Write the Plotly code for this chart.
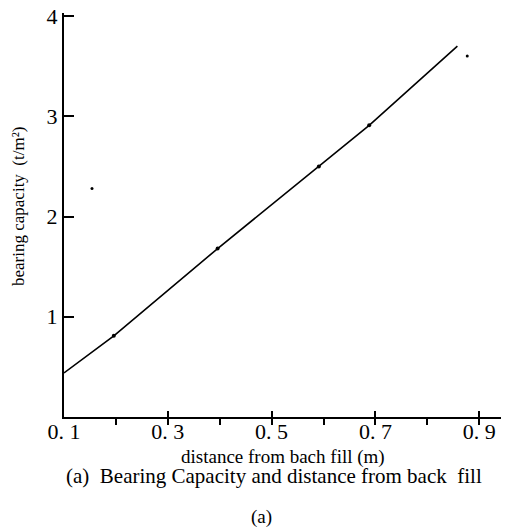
import plotly.graph_objects as go

# Data
distance = [0.10, 0.196, 0.396, 0.591, 0.688, 0.858]
capacity = [0.44, 0.81, 1.68, 2.50, 2.91, 3.70]
dot_distance = [0.196, 0.396, 0.591, 0.688]
dot_capacity = [0.81, 1.68, 2.50, 2.91]
speck_distance = [0.154, 0.877]
speck_capacity = [2.28, 3.60]

x_tickvals = [0.1, 0.3, 0.5, 0.7, 0.9]
x_ticktext = ["0. 1", "0. 3", "0. 5", "0. 7", "0. 9"]
y_tickvals = [1, 2, 3, 4]
y_ticktext = ["1", "2", "3", "4"]

FONT = "Liberation Serif, Times New Roman, serif"

fig = go.Figure()
fig.add_trace(go.Scatter(x=distance, y=capacity, mode="lines",
                         line=dict(color="black", width=1.6),
                         showlegend=False, hoverinfo="skip"))
fig.add_trace(go.Scatter(x=dot_distance, y=dot_capacity, mode="markers",
                         marker=dict(color="black", size=4),
                         showlegend=False))
fig.add_trace(go.Scatter(x=speck_distance, y=speck_capacity, mode="markers",
                         marker=dict(color="black", size=3),
                         showlegend=False))

# page body has an 8px margin; work in screen pixels and subtract it
OFF = 8
W, H = 509 - OFF, 529 - OFF
L = 64 - OFF
T = 13 - OFF
BOTTOM = 417 - OFF          # x-axis position in figure px
RIGHT = 505 - OFF           # right end of x-axis in figure px
B = H - BOTTOM
R = W - RIGHT
ph = H - T - B
pw = W - L - R

def py(p):
    return (BOTTOM - (p - OFF)) / ph

def px(p):
    return ((p - OFF) - L) / pw

x_max = 0.1 + (RIGHT - L) / 519.0
y_max = 4.03

fig.update_layout(
    width=W, height=H,
    margin=dict(l=L, r=R, t=T, b=B, autoexpand=False),
    paper_bgcolor="white", plot_bgcolor="white",
    font=dict(family=FONT, color="black"),
    xaxis=dict(range=[0.1, x_max], showgrid=False, zeroline=False,
               automargin=False,
               showline=True, linecolor="black", linewidth=2,
               tickmode="array", tickvals=x_tickvals, ticktext=x_ticktext,
               ticks="inside", ticklen=6, tickwidth=2, tickcolor="black",
               minor=dict(dtick=0.1, tick0=0.1, ticks="outside", ticklen=6,
                          tickwidth=2, tickcolor="black", showgrid=False),
               ticklabelstandoff=-6,
               tickfont=dict(size=22, family=FONT)),
    yaxis=dict(range=[0, y_max], showgrid=False, zeroline=False,
               automargin=False,
               showline=True, linecolor="black", linewidth=2,
               tickmode="array", tickvals=y_tickvals, ticktext=y_ticktext,
               ticks="inside", ticklen=10, tickwidth=2, tickcolor="black",
               ticklabeloverflow="allow",
               tickfont=dict(size=22, family=FONT)),
    annotations=[
        dict(text="bearing capacity  (t/m²)", textangle=-90,
             xref="paper", yref="paper", x=px(18), y=py(207),
             showarrow=False, xanchor="center", yanchor="middle",
             font=dict(size=17, family=FONT)),
        dict(text="distance from bach fill (m)",
             xref="paper", yref="paper", x=px(283), y=py(457),
             showarrow=False, xanchor="center", yanchor="middle",
             font=dict(size=19, family=FONT)),
        dict(text="(a)  Bearing Capacity and distance from back  fill",
             xref="paper", yref="paper", x=px(274), y=py(476),
             showarrow=False, xanchor="center", yanchor="middle",
             font=dict(size=21, family=FONT)),
        dict(text="(a)", xref="paper", yref="paper",
             x=px(261), y=py(517),
             showarrow=False, xanchor="center", yanchor="middle",
             font=dict(size=19, family=FONT)),
    ],
)

fig.write_html("out.html")
